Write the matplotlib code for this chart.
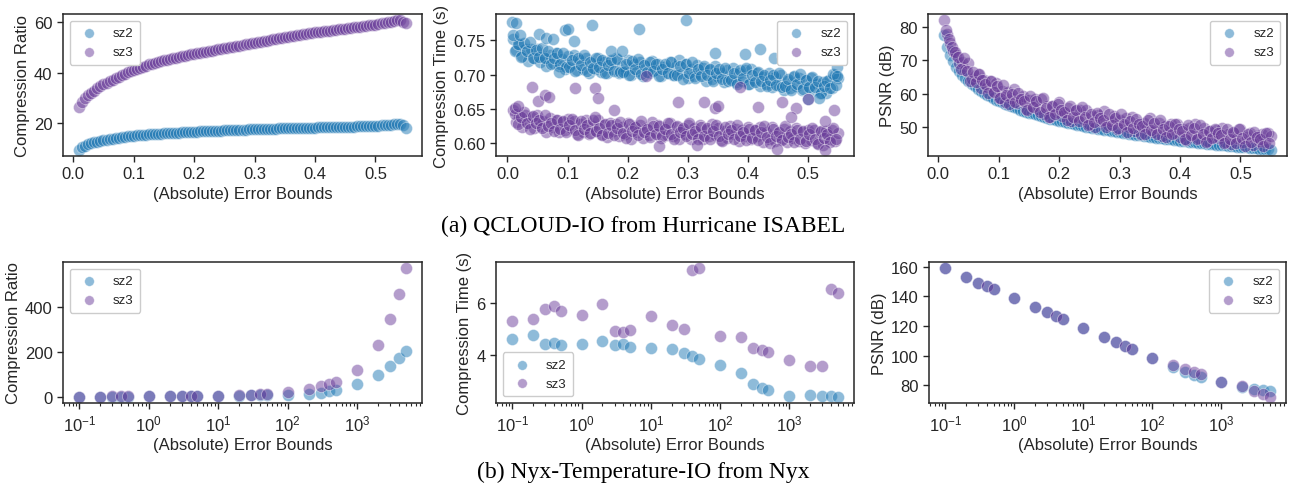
import numpy as np
import matplotlib
matplotlib.use('Agg')
import matplotlib.pyplot as plt
from matplotlib.ticker import MultipleLocator, LogLocator, NullFormatter

plt.rcParams.update({
    'font.family': ['Liberation Sans', 'DejaVu Sans'],
    'mathtext.fontset': 'custom',
    'mathtext.rm': 'Liberation Sans',
    'mathtext.it': 'Liberation Sans:italic',
    'mathtext.bf': 'Liberation Sans:bold',
    'font.size': 12,
    'text.color': '#262626',
    'axes.labelcolor': '#262626',
    'axes.edgecolor': '#262626',
    'axes.linewidth': 1.1,
    'xtick.color': '#262626',
    'ytick.color': '#262626',
    'xtick.labelsize': 12,
    'ytick.labelsize': 12,
    'xtick.major.size': 4,
    'ytick.major.size': 4,
    'xtick.major.width': 1.0,
    'ytick.major.width': 1.0,
    'xtick.minor.size': 2.5,
    'xtick.minor.width': 0.8,
    'axes.labelpad': 3,
})

SZ2_COLOR = '#1f78b4'
SZ3_COLOR = '#6a3d9a'

# ---- (a) QCLOUD-IO, error bounds 0.01 .. 0.55 ----
eb_a = np.round(np.linspace(0.010, 0.550, 109), 4)
eb_a_mid = np.round(np.linspace(0.0125, 0.5475, 108), 4)

sz2_ratio_a = [
    9.6, 10.5, 11.1, 11.6, 12.0, 12.4, 12.7, 13.0, 13.3, 13.5, 13.7, 13.9, 14.1, 14.3, 14.5, 14.6, 14.8, 14.9, 15.1,
    15.2, 15.3, 15.4, 15.5, 15.6, 15.7, 15.7, 15.8, 15.9, 16.0, 16.0, 16.1, 16.2, 16.3, 16.3, 16.4, 16.5, 16.5, 16.6, 16.7,
    16.7, 16.8, 16.8, 16.9, 16.9, 17.0, 17.0, 17.1, 17.1, 17.2, 17.2, 17.3, 17.3, 17.4, 17.4, 17.5, 17.5, 17.6, 17.6, 17.7,
    17.7, 17.8, 17.8, 17.8, 17.9, 17.9, 17.9, 18.0, 18.0, 18.0, 18.1, 18.1, 18.1, 18.2, 18.2, 18.2, 18.2, 18.3, 18.3, 18.3,
    18.4, 18.4, 18.4, 18.5, 18.5, 18.5, 18.6, 18.6, 18.6, 18.6, 18.7, 18.7, 18.7, 18.8, 18.8, 18.8, 18.8, 18.9, 18.9, 18.9,
    19.0, 19.1, 19.2, 19.3, 19.4, 19.5, 19.6, 19.6, 19.3, 18.0,
]
sz3_ratio_a = [
    26.5, 28.3, 29.8, 31.0, 32.0, 32.9, 33.8, 34.6, 35.3, 36.0, 36.6, 37.2, 37.8, 38.4, 39.0, 39.6, 40.1, 40.6, 41.1,
    41.5, 42.0, 42.4, 42.8, 43.2, 43.5, 43.9, 44.2, 44.5, 44.8, 45.1, 45.4, 45.7, 45.9, 46.2, 46.4, 46.7, 46.9, 47.2, 47.4,
    47.6, 47.9, 48.1, 48.3, 48.5, 48.7, 49.0, 49.2, 49.4, 49.6, 49.8, 50.1, 50.3, 50.5, 50.7, 50.9, 51.2, 51.4, 51.6, 51.8,
    52.0, 52.2, 52.4, 52.6, 52.8, 53.1, 53.3, 53.5, 53.7, 53.9, 54.1, 54.3, 54.5, 54.7, 54.9, 55.1, 55.3, 55.5, 55.7, 55.9,
    56.0, 56.2, 56.3, 56.5, 56.6, 56.8, 56.9, 57.1, 57.2, 57.4, 57.6, 57.7, 57.9, 58.0, 58.2, 58.4, 58.5, 58.7, 58.8, 59.0,
    59.2, 59.4, 59.6, 59.8, 60.0, 60.3, 60.6, 60.6, 60.0, 59.5,
]

sz2_time_a = [
    .752, .736, .744, .727, .737, .720, .738, .725, .737, .718, .726, .713, .729, .717, .732, .712, .723, .708, .727,
    .716, .729, .707, .721, .709, .725, .702, .717, .708, .724, .704, .718, .702, .719, .708, .724, .702, .713, .705, .721,
    .700, .715, .706, .719, .698, .713, .702, .720, .707, .715, .698, .711, .702, .719, .699, .713, .722, .702, .715, .695,
    .709, .698, .714, .701, .710, .691, .707, .694, .712, .696, .703, .690, .707, .695, .710, .689, .702, .691, .707, .686,
    .709, .692, .702, .684, .697, .686, .702, .682, .696, .685, .699, .678, .691, .681, .697, .683, .695, .677, .692, .682,
    .695, .677, .687, .674, .689, .674, .693, .680, .700, .695,
]
sz2_time_a_mid = [
    .734, .745, .726, .746, .734, .748, .724, .736, .726, .739, .725, .734, .716, .725, .731, .716, .732, .711, .711,
    .722, .705, .725, .714, .729, .706, .719, .710, .724, .711, .721, .703, .714, .721, .706, .723, .704, .704, .716,
    .699, .720, .708, .723, .701, .714, .704, .719, .706, .716, .698, .709, .716, .702, .718, .699, .700, .712, .694, .715,
    .703, .718, .695, .708, .698, .713, .699, .709, .691, .702, .708, .694, .710, .691, .692, .703, .686, .707, .695, .710,
    .687, .699, .690, .704, .691, .700, .683, .693, .700, .685, .702, .682, .683, .694, .677, .698, .687, .701, .679, .692,
    .682, .696, .682, .691, .673, .683, .691, .680, .701, .685,
]
sz3_time_a = [
    .648, .631, .640, .624, .642, .630, .638, .622, .641, .625, .632, .617, .637, .624, .634, .617, .631, .619, .635,
    .623, .632, .613, .628, .617, .634, .614, .625, .618, .634, .614, .627, .609, .630, .618, .628, .610, .624, .614, .630,
    .607, .625, .616, .627, .608, .622, .612, .631, .617, .627, .608, .622, .612, .629, .610, .624, .606, .620, .613, .627,
    .606, .622, .614, .627, .607, .620, .610, .628, .612, .623, .605, .618, .608, .626, .613, .621, .603, .619, .610, .624,
    .606, .619, .611, .624, .602, .617, .607, .624, .604, .615, .607, .621, .602, .618, .608, .622, .604, .616, .601, .619,
    .605, .620, .601, .616, .598, .618, .606, .620, .603, .615,
]
sz3_time_a_mid = [
    .643, .628, .638, .646, .629, .621, .640, .629, .634, .622, .641, .625, .629, .618, .634, .621, .632, .617, .627,
    .636, .619, .612, .632, .621, .627, .615, .634, .618, .623, .612, .628, .615, .627, .612, .623, .631, .615, .608,
    .628, .618, .624, .612, .632, .616, .621, .609, .626, .613, .625, .610, .621, .630, .613, .606, .626, .616, .622, .610,
    .629, .613, .618, .607, .624, .611, .623, .607, .618, .627, .611, .604, .624, .614, .619, .607, .627, .611, .616, .605,
    .621, .608, .620, .605, .616, .625, .609, .601, .621, .611, .617, .605, .625, .609, .613, .602, .619, .606, .618, .603,
    .613, .622, .606, .599, .618, .608, .614, .602, .622, .607,
]
# stray timing runs off the main band
sz2_time_extra_eb = [0.008, 0.014, 0.009, 0.021, 0.053, 0.065, 0.076, 0.096, 0.100, 0.111, 0.140, 0.173, 0.190,
                     0.219, 0.298, 0.346, 0.395, 0.421, 0.444, 0.457, 0.534, 0.501, 0.518, 0.549, 0.549, 0.085]
sz2_time_extra = [0.777, 0.775, 0.758, 0.758, 0.760, 0.754, 0.752, 0.765, 0.766, 0.749, 0.773, 0.734, 0.734,
                  0.766, 0.779, 0.731, 0.730, 0.738, 0.724, 0.729, 0.724, 0.664, 0.666, 0.711, 0.698, 0.704]
sz3_time_extra_eb = [0.012, 0.018, 0.041, 0.051, 0.063, 0.069, 0.112, 0.145, 0.150, 0.178, 0.230, 0.284, 0.328,
                     0.345, 0.351, 0.387, 0.417, 0.458, 0.481, 0.473, 0.501, 0.543, 0.528, 0.145, 0.252, 0.449,
                     0.529, 0.316]
sz3_time_extra = [0.651, 0.654, 0.682, 0.661, 0.671, 0.668, 0.681, 0.680, 0.666, 0.648, 0.698, 0.660, 0.660,
                  0.651, 0.654, 0.682, 0.653, 0.660, 0.651, 0.639, 0.664, 0.649, 0.632, 0.639, 0.596, 0.592,
                  0.591, 0.598]

sz2_psnr_a = [
    77.5, 74.0, 71.6, 69.7, 68.1, 66.8, 65.6, 64.6, 63.7, 62.9, 62.2, 61.5, 60.9, 60.3, 59.7, 59.2, 58.7, 58.2, 57.8,
    57.4, 57.0, 56.6, 56.2, 55.9, 55.6, 55.2, 54.9, 54.6, 54.3, 54.1, 53.8, 53.5, 53.3, 53.0, 52.8, 52.5, 52.3, 52.1, 51.9,
    51.7, 51.5, 51.3, 51.1, 50.9, 50.7, 50.5, 50.3, 50.1, 50.0, 49.8, 49.6, 49.5, 49.3, 49.2, 49.0, 48.8, 48.7, 48.5, 48.4,
    48.3, 48.1, 48.0, 47.9, 47.7, 47.6, 47.5, 47.3, 47.2, 47.1, 47.0, 46.8, 46.7, 46.6, 46.5, 46.4, 46.3, 46.2, 46.0, 45.9,
    45.8, 45.7, 45.6, 45.5, 45.4, 45.3, 45.2, 45.1, 45.0, 44.9, 44.8, 44.7, 44.7, 44.6, 44.5, 44.4, 44.3, 44.2, 44.1, 44.0,
    44.0, 43.9, 43.8, 43.7, 43.6, 43.5, 43.5, 43.4, 43.3, 43.2,
]
sz3_psnr_a = [
    82.0, 78.0, 75.1, 72.7, 71.6, 69.3, 69.6, 67.1, 69.2, 64.4, 65.2, 66.0, 61.7, 64.1, 61.9, 63.7, 60.7, 63.2, 58.8,
    60.9, 57.5, 60.6, 58.7, 61.4, 57.1, 58.2, 59.4, 55.4, 58.1, 56.3, 58.3, 55.5, 58.3, 54.0, 56.3, 53.0, 56.3, 54.6, 57.4,
    53.2, 54.5, 55.8, 51.9, 54.7, 52.9, 55.0, 52.3, 55.1, 51.0, 53.3, 50.1, 53.5, 51.8, 54.7, 50.5, 51.8, 53.2, 49.3, 52.2,
    50.5, 52.6, 50.0, 52.9, 48.7, 51.1, 48.0, 51.3, 49.7, 52.6, 48.5, 49.8, 51.2, 47.4, 50.3, 48.6, 50.8, 48.2, 51.0, 46.9,
    49.3, 46.2, 49.6, 48.0, 50.9, 46.8, 48.2, 49.6, 45.8, 48.7, 47.0, 49.2, 46.7, 49.6, 45.5, 47.9, 44.8, 48.2, 46.6, 49.5,
    45.5, 46.9, 48.3, 44.5, 47.4, 45.7, 48.0, 45.4, 48.3, 47.2,
]
sz3_psnr_a_mid = [
    79.2, 76.3, 74.1, 72.4, 70.9, 67.4, 70.6, 66.9, 63.8, 66.5, 63.6, 66.0, 64.0, 63.0, 60.2, 63.9, 60.4, 62.2, 58.8,
    62.7, 59.6, 56.9, 60.0, 57.5, 60.2, 58.4, 57.7, 55.2, 59.2, 55.9, 57.8, 54.6, 58.6, 55.7, 53.1, 56.4, 54.0, 56.8,
    55.2, 54.6, 52.2, 56.2, 53.0, 55.0, 51.8, 55.9, 53.0, 50.5, 53.9, 51.5, 54.3, 52.8, 52.2, 49.9, 53.9, 50.7, 52.8, 49.6,
    53.8, 51.0, 48.5, 51.9, 49.6, 52.4, 50.9, 50.4, 48.0, 52.1, 49.0, 51.1, 47.9, 52.1, 49.3, 46.9, 50.3, 48.0, 50.9, 49.3,
    48.8, 46.5, 50.6, 47.5, 49.6, 46.5, 50.7, 47.9, 45.5, 48.9, 46.6, 49.5, 48.1, 47.6, 45.3, 49.4, 46.3, 48.4, 45.3, 49.5,
    46.8, 44.4, 47.8, 45.5, 48.4, 46.9, 46.5, 44.2, 48.3, 45.2,
]

# ---- (b) Nyx-Temperature-IO ----
eb_b = [0.1, 0.2, 0.3, 0.4, 0.5, 1, 2, 3, 4, 5, 10, 20, 30, 40, 50,
        100, 200, 300, 400, 500, 1000, 2000, 3000, 4000, 5000]

sz2_ratio_b = [3, 3, 3, 3, 3, 4, 4, 4, 5, 5, 5, 7, 8, 9, 10,
               12, 15, 20, 26, 32, 58, 100, 140, 175, 204]
sz3_ratio_b = [3, 3, 4, 4, 4, 5, 5, 6, 6, 6, 7, 10, 12, 13, 14,
               22, 37, 48, 59, 69, 120, 233, 347, 457, 569]

sz2_time_b = [4.63, 4.80, 4.44, 4.46, 4.39, 4.43, 4.57, 4.41, 4.44, 4.34, 4.30, 4.26, 4.10, 3.99, 3.88,
              3.63, 3.34, 2.90, 2.76, 2.67, 2.44, 2.48, 2.44, 2.43, 2.42]
sz3_time_b = [5.34, 5.41, 5.79, 5.90, 5.70, 5.56, 5.99, 4.92, 4.89, 4.97, 5.51, 5.17, 5.02, 7.29, 7.34,
              4.76, 4.71, 4.28, 4.22, 4.15, 3.81, 3.61, 3.61, 6.54, 6.39]

sz2_psnr_b = [158.8, 152.8, 149.3, 146.8, 144.8, 138.8, 132.8, 129.2, 126.8, 124.8, 118.8, 112.8, 109.2, 106.7, 104.7,
              98.7, 92.7, 89.2, 87.3, 86.0, 82.5, 78.7, 77.6, 77.0, 76.2]
sz3_psnr_b = [158.8, 152.8, 149.3, 146.8, 144.8, 138.8, 132.8, 129.2, 126.8, 124.8, 118.8, 112.8, 109.2, 106.7, 104.7,
              98.7, 93.9, 91.0, 88.9, 87.5, 82.6, 79.4, 76.6, 74.0, 72.5]


def draw_pair(ax, x2, y2, x3, y3, legend_loc):
    kw = dict(s=75, alpha=0.5, edgecolors='white', linewidths=0.5)
    ax.scatter(x2, y2, color=SZ2_COLOR, label='sz2', **kw)
    ax.scatter(x3, y3, color=SZ3_COLOR, label='sz3', **kw)
    ax.set_xlabel('(Absolute) Error Bounds')
    ax.legend(loc=legend_loc, fontsize=9.5, markerscale=0.8, frameon=True,
              edgecolor='#cccccc', framealpha=1.0, borderpad=0.5)


fig = plt.figure(figsize=(12.94, 4.89), dpi=100)
W, H = 1294.0, 489.0


def add_axes(left, right, top, bottom):
    return fig.add_axes([left / W, 1 - bottom / H, (right - left) / W, (bottom - top) / H])


ax1 = add_axes(63, 422, 15, 157)
ax2 = add_axes(496, 854, 15, 157)
ax3 = add_axes(928, 1287, 15, 157)
ax4 = add_axes(63, 422, 263, 404)
ax5 = add_axes(496, 854, 263, 404)
ax6 = add_axes(929, 1286, 263, 404)

draw_pair(ax1, eb_a, sz2_ratio_a, eb_a, sz3_ratio_a, 'upper left')
ax1.set_ylabel('Compression Ratio')
ax1.yaxis.set_major_locator(MultipleLocator(20))

draw_pair(ax2,
          np.concatenate([eb_a, eb_a_mid, sz2_time_extra_eb]), sz2_time_a + sz2_time_a_mid + sz2_time_extra,
          np.concatenate([eb_a, eb_a_mid, sz3_time_extra_eb]), sz3_time_a + sz3_time_a_mid + sz3_time_extra,
          'upper right')
ax2.set_ylabel('Compression Time (s)')
ax2.yaxis.set_major_locator(MultipleLocator(0.05))
ax2.yaxis.set_major_formatter(plt.FormatStrFormatter('%.2f'))

draw_pair(ax3, eb_a, sz2_psnr_a,
          np.concatenate([eb_a, eb_a_mid]), sz3_psnr_a + sz3_psnr_a_mid, 'upper right')
ax3.set_ylabel('PSNR (dB)')
ax3.yaxis.set_major_locator(MultipleLocator(10))

for ax in (ax1, ax2, ax3):
    ax.xaxis.set_major_locator(MultipleLocator(0.1))
    ax.xaxis.set_major_formatter(plt.FormatStrFormatter('%.1f'))

draw_pair(ax4, eb_b, sz2_ratio_b, eb_b, sz3_ratio_b, 'upper left')
ax4.set_ylabel('Compression Ratio')
ax4.yaxis.set_major_locator(MultipleLocator(200))

draw_pair(ax5, eb_b, sz2_time_b, eb_b, sz3_time_b, 'lower left')
ax5.set_ylabel('Compression Time (s)')
ax5.yaxis.set_major_locator(MultipleLocator(2))

draw_pair(ax6, eb_b, sz2_psnr_b, eb_b, sz3_psnr_b, 'upper right')
ax6.set_ylabel('PSNR (dB)')
ax6.yaxis.set_major_locator(MultipleLocator(20))

for ax in (ax4, ax5, ax6):
    ax.set_xscale('log')
    ax.xaxis.set_major_locator(LogLocator(base=10, numticks=10))
    ax.xaxis.set_minor_locator(LogLocator(base=10, subs=np.arange(2, 10), numticks=20))
    ax.xaxis.set_minor_formatter(NullFormatter())

fig.text(0.497, 1 - 226 / H, '(a) QCLOUD-IO from Hurricane ISABEL', ha='center', va='center',
         family='Liberation Serif', fontsize=17, color='black')
fig.text(0.497, 1 - 472 / H, '(b) Nyx-Temperature-IO from Nyx', ha='center', va='center',
         family='Liberation Serif', fontsize=17, color='black')

fig.savefig('out.png', dpi=100)
